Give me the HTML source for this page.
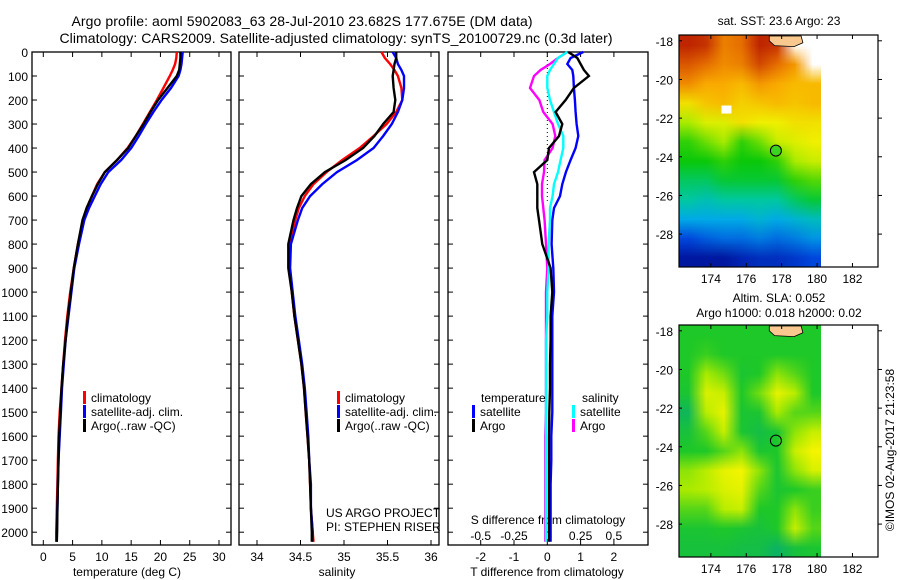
<!DOCTYPE html>
<html><head><meta charset="utf-8"><style>
html,body{margin:0;padding:0;background:#fff;width:900px;height:580px;overflow:hidden}
svg{font-family:"Liberation Sans",sans-serif;position:absolute;left:0;top:0}
canvas{position:absolute;image-rendering:auto}
text{fill:#000}
</style></head><body>
<canvas id="sstc" width="8" height="12" style="left:679px;top:35px;width:142px;height:232px"></canvas>
<canvas id="slac" width="8" height="12" style="left:679px;top:325px;width:142px;height:232px"></canvas>
<svg id="fig" width="900" height="580">
<text x="302" y="26" font-size="14" text-anchor="middle" textLength="461">Argo profile: aoml 5902083_63 28-Jul-2010 23.682S 177.675E (DM data)</text>
<text x="336" y="43" font-size="14" text-anchor="middle" textLength="553">Climatology: CARS2009. Satellite-adjusted climatology: synTS_20100729.nc (0.3d later)</text>
<g id="g"></g>
</svg>
<script>
const depths=[0,25,50,75,100,150,200,250,300,350,400,450,500,550,600,650,700,800,900,1000,1100,1200,1300,1400,1500,1600,1700,1800,1900,2000,2040];
const tempArgo=[23.4,23.4,23.3,23.2,22.8,21.2,19.6,18.3,17.1,15.8,14.5,12.6,10.5,9.3,8.3,7.4,6.7,5.9,5.2,4.7,4.2,3.8,3.4,3.1,2.9,2.7,2.6,2.5,2.4,2.35,2.3];
const tempClim=[22.8,22.7,22.5,22.1,21.6,20.5,19.4,18.2,17.0,15.8,14.4,12.6,10.5,9.2,8.3,7.4,6.8,5.9,5.2,4.6,4.1,3.7,3.4,3.1,2.8,2.6,2.5,2.4,2.3,2.2,2.2];
const tempSat=[23.8,23.7,23.6,23.4,23.1,21.8,20.2,18.8,17.5,16.3,15.0,13.3,11.1,9.8,8.8,7.8,7.0,6.1,5.3,4.8,4.3,3.8,3.5,3.2,3.0,2.8,2.6,2.5,2.4,2.3,2.3];
const salArgo=[35.60,35.60,35.58,35.57,35.56,35.57,35.59,35.57,35.45,35.35,35.22,35.02,34.78,34.62,34.51,34.46,34.42,34.36,34.36,34.40,34.43,34.47,34.51,34.54,34.56,34.58,34.60,34.61,34.62,34.63,34.63];
const salClim=[35.43,35.47,35.53,35.58,35.62,35.66,35.67,35.60,35.49,35.34,35.18,34.98,34.80,34.65,34.55,34.48,34.44,34.38,34.37,34.40,34.43,34.47,34.51,34.54,34.56,34.58,34.60,34.61,34.62,34.64,34.65];
const salSat=[35.56,35.60,35.62,35.66,35.69,35.69,35.67,35.62,35.55,35.45,35.34,35.15,34.92,34.75,34.61,34.52,34.47,34.39,34.38,34.41,34.44,34.48,34.52,34.55,34.57,34.59,34.60,34.62,34.62,34.64,34.64];
const tDiffSat=[1.08,0.7,0.6,0.75,0.78,0.8,0.83,0.85,0.88,0.93,0.85,0.7,0.56,0.45,0.38,0.2,0.15,0.13,0.18,0.2,0.15,0.15,0.15,0.15,0.15,0.12,0.12,0.1,0.1,0.1,0.1];
const tDiffArgo=[0.63,0.9,1.0,1.1,1.25,0.8,0.55,0.25,0.45,0.35,0.05,0.0,-0.4,-0.3,-0.3,-0.3,-0.25,-0.15,0.1,0.15,0.1,0.1,0.08,0.08,0.06,0.05,0.05,0.05,0.05,0.05,0.05];
const sDiffArgo=[0.15,0.08,0.02,-0.05,-0.1,-0.13,-0.06,-0.03,0.04,0.06,0.04,-0.02,-0.025,-0.04,-0.04,-0.03,-0.02,-0.01,0,-0.01,-0.01,-0.01,-0.01,-0.01,-0.01,-0.015,-0.015,-0.015,-0.015,-0.015,-0.015];
const sDiffSat=[0.15,0.08,0.05,0.02,0.0,0.0,0.02,0.05,0.08,0.12,0.12,0.1,0.08,0.05,0.04,0.02,0.02,0.01,0.01,0.0,0.0,-0.01,-0.01,-0.01,-0.01,-0.01,-0.01,-0.01,-0.01,-0.01,-0.01];
const depthTicks=[0,100,200,300,400,500,600,700,800,900,1000,1100,1200,1300,1400,1500,1600,1700,1800,1900,2000];
const tempTicks=[0,5,10,15,20,25,30];
const salTicks=[34,34.5,35,35.5,36];
const tDiffTicks=[-2,-1,0,1,2];
const sDiffTicks=[-0.5,-0.25,0,0.25,0.5];
const lonTicks=[174,176,178,180,182];
const latTicks=[-18,-20,-22,-24,-26,-28];
const sstGrid=[
[.95,.93,.82,.85,.95,.93,-1,-1],
[.88,.85,.80,.82,.90,.85,.78,-1],
[.80,.75,.75,.72,.78,.75,.72,.72],
[.65,.70,.72,.68,.70,.72,.70,.72],
[.55,.60,.60,.65,.62,.62,.65,.65],
[.45,.50,.55,.45,.50,.58,.60,.62],
[.42,.42,.45,.42,.42,.45,.55,.58],
[.38,.38,.40,.40,.40,.40,.45,.48],
[.35,.33,.35,.35,.35,.35,.38,.40],
[.28,.28,.28,.28,.30,.28,.30,.32],
[.15,.18,.20,.20,.22,.20,.22,.25],
[.05,.05,.05,.08,.10,.10,.12,.15]];
const slaGrid=[
[.5,.5,.5,.5,.5,.5,.5,.5],
[.5,.55,.5,.5,.5,.5,.5,.5],
[.5,.75,.65,.45,.5,.7,.6,.5],
[.45,.9,.85,.5,.65,.95,.8,.5],
[.25,.8,.95,.45,.45,.75,.6,.6],
[.4,.6,.85,.45,.35,.45,.7,.85],
[.5,.5,.6,.7,.45,.5,.85,1],
[.7,.8,.95,1,.7,.45,.7,.9],
[.75,.8,.9,.95,.6,.45,.5,.55],
[.6,.6,.8,.85,.5,.5,.7,.55],
[.45,.45,.5,.45,.4,.5,.85,.6],
[.4,.4,.4,.35,.35,.2,.4,.45]];
const argoLon=177.675, argoLat=-23.682;

const NS='http://www.w3.org/2000/svg';
const G=document.getElementById('g');
function mk(tag,attrs,parent){const e=document.createElementNS(NS,tag);for(const k in attrs)e.setAttribute(k,attrs[k]);(parent||G).appendChild(e);return e;}
function txt(x,y,s,size,anchor,parent){const t=mk('text',{x:x,y:y,'font-size':size||12,'text-anchor':anchor||'start'},parent);t.textContent=s;return t;}
const TOP=52,BOT=545;
const yD=d=>TOP+d*0.2401;
const panels=[
 {name:'temperature-panel',x0:32,x1:231,sx:v=>43.3+v*5.857},
 {name:'salinity-panel',x0:239,x1:439,sx:v=>257+(v-34)*87},
 {name:'difference-panel',x0:448,x1:648,sx:v=>547.3+v*33.3}];
const sxS=v=>547.3+v*133.2;
panels.forEach((p,i)=>{
 const g=mk('g',{});
 
 
 const r=mk('rect',{x:p.x0,y:TOP,width:p.x1-p.x0,height:BOT-TOP,fill:'none',stroke:'#000','stroke-width':1.3},g);
 
 depthTicks.forEach(d=>{const y=yD(d);
  mk('line',{x1:p.x0,x2:p.x0+5,y1:y,y2:y,stroke:'#000'},g);
  mk('line',{x1:p.x1,x2:p.x1-5,y1:y,y2:y,stroke:'#000'},g);});
});
const yl=mk('g',{});
depthTicks.forEach(d=>txt(28,yD(d)+5,String(d),12,'end',yl));
function xAxis(ticks,sx,fmt,name,ly){const g=mk('g',{});
 ticks.forEach(v=>{const x=sx(v);mk('line',{x1:x,x2:x,y1:TOP,y2:TOP+5,stroke:'#000'},g);mk('line',{x1:x,x2:x,y1:BOT,y2:BOT-5,stroke:'#000'},g);
 txt(x,ly,fmt(v),12,'middle',g);});return g;}
xAxis(tempTicks,panels[0].sx,String,'temperature-x-axis',561);
xAxis(salTicks,panels[1].sx,String,'salinity-x-axis',561);
xAxis(tDiffTicks,panels[2].sx,String,'t-difference-x-axis',561);
const sg=mk('g',{});
sDiffTicks.forEach(v=>txt(sxS(v),540,String(v),12,'middle',sg));
txt(127,576,'temperature (deg C)',12,'middle');
txt(337,576,'salinity',12,'middle');
txt(547,576,'T difference from climatology',12,'middle');
txt(548,524,'S difference from climatology',12,'middle');
const zl=mk('line',{x1:547.3,x2:547.3,y1:TOP,y2:yD(620),stroke:'#000','stroke-dasharray':'1,3'});

function line(vals,sx,color,name){const pts=vals.map((v,i)=>sx(v).toFixed(1)+','+yD(depths[i]).toFixed(1)).join(' ');
 const e=mk('polyline',{points:pts,fill:'none',stroke:color,'stroke-width':2.4,'stroke-linejoin':'miter'});
 }
line(tempClim,panels[0].sx,'#f00','temperature-climatology-line');
line(tempSat,panels[0].sx,'#00f','temperature-satellite-line');
line(tempArgo,panels[0].sx,'#000','temperature-argo-line');
line(salClim,panels[1].sx,'#f00','salinity-climatology-line');
line(salSat,panels[1].sx,'#00f','salinity-satellite-line');
line(salArgo,panels[1].sx,'#000','salinity-argo-line');
line(sDiffArgo,sxS,'#f0f','s-difference-argo-line');
line(sDiffSat,sxS,'#0ff','s-difference-satellite-line');
line(tDiffSat,panels[2].sx,'#00f','t-difference-satellite-line');
line(tDiffArgo,panels[2].sx,'#000','t-difference-argo-line');
function legend(x,y,color,label){const g=mk('g',{});
 mk('rect',{x:x,y:y-11,width:3,height:13,fill:color},g);txt(x+8,y,label,12,'start',g);}
[[ 'climatology','#f00'],['satellite-adj. clim.','#00f'],['Argo(..raw -QC)','#000']].forEach((e,i)=>{legend(83,402+i*14,e[1],e[0]);legend(337,402+i*14,e[1],e[0]);});
txt(481,402,'temperature');
txt(582,402,'salinity');
legend(472,416,'#00f','satellite');legend(472,430,'#000','Argo');
legend(572,416,'#0ff','satellite');legend(572,430,'#f0f','Argo');
txt(326,517,'US ARGO PROJECT');
txt(326,531,'PI: STEPHEN RISER');
const MX0=679,MX1=878,LON0=172.2;
const mx=l=>MX0+(l-LON0)*17.7;
function ramp(st,v){for(let i=1;i<st.length;i++){if(v<=st[i][0]){const a=st[i-1],b=st[i],t=(v-a[0])/(b[0]-a[0]);return a[1].map((c,k)=>Math.round(c+(b[1][k]-c)*t));}}return st[st.length-1][1];}
const sstStops=[[0,[0,0,130]],[.15,[0,70,220]],[.28,[0,170,230]],[.35,[0,200,160]],[.42,[10,200,10]],[.55,[170,235,0]],[.62,[240,240,0]],[.75,[250,170,0]],[.85,[230,110,0]],[1,[170,0,0]]];
const slaStops=[[0,[0,165,140]],[.5,[30,200,40]],[.75,[170,235,0]],[1,[245,245,0]]];
function paint(id,grid,st){const c=document.getElementById(id).getContext('2d');const im=c.createImageData(8,12);
 grid.forEach((row,r)=>row.forEach((v,k)=>{const i=(r*8+k)*4;const col=v<0?[255,255,255]:ramp(st,v);im.data[i]=col[0];im.data[i+1]=col[1];im.data[i+2]=col[2];im.data[i+3]=255;}));c.putImageData(im,0,0);}
paint('sstc',sstGrid,sstStops);paint('slac',slaGrid,slaStops);
function map(top,name,circleFill){const my=la=>top+(-17.7-la)*19.33;const g=mk('g',{});
 if(name==='sst-map'){mk('rect',{x:mx(174.6),y:my(-21.35),width:10,height:8,fill:'#fff'},g);}
 const land=mk('path',{d:`M${mx(177.3)} ${my(-17.75)} L${mx(179.1)} ${my(-17.75)} L${mx(179.2)} ${my(-18.1)} L${mx(178.7)} ${my(-18.3)} L${mx(177.6)} ${my(-18.25)} L${mx(177.3)} ${my(-18.0)}Z`,fill:'#f9c88e',stroke:'#000','stroke-width':0.8},g);
 
 mk('rect',{x:MX0,y:top,width:MX1-MX0,height:232,fill:'none',stroke:'#000','stroke-width':1.2},g);
 lonTicks.forEach(l=>{const x=mx(l);mk('line',{x1:x,x2:x,y1:top,y2:top+4,stroke:'#000'},g);mk('line',{x1:x,x2:x,y1:top+232,y2:top+228,stroke:'#000'},g);txt(x,top+248,String(l),12,'middle',g);});
 latTicks.forEach(l=>{const y=my(l);mk('line',{x1:MX1,x2:MX1+4,y1:y,y2:y,stroke:'#000'},g);mk('line',{x1:MX0,x2:MX0+3,y1:y,y2:y,stroke:'#000'},g);txt(673,y+5,String(l),12,'end',g);});
 const c=mk('circle',{cx:mx(argoLon),cy:my(argoLat),r:5.5,fill:circleFill,stroke:'#000','stroke-width':1},g);
 }
map(35,'sst-map','#3cd41e');map(325,'sla-map','none');
txt(779,25,'sat. SST: 23.6 Argo: 23',12,'middle');
txt(779,302,'Altim. SLA: 0.052',12,'middle');
txt(779,317,'Argo h1000: 0.018 h2000: 0.02',12,'middle');
const cr=txt(0,0,'\u00a9IMOS 02-Aug-2017 21:23:58',12,'middle');cr.setAttribute('transform','translate(894,450) rotate(-90)');

</script>
</body></html>
